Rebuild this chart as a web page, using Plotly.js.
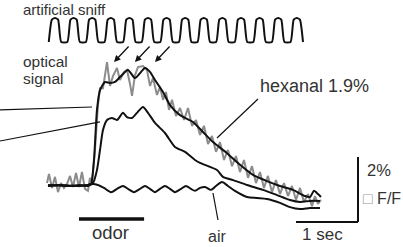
<!DOCTYPE html>
<html>
<head>
<meta charset="utf-8">
<script src="https://cdn.plot.ly/plotly-3.0.1.min.js"></script>
<style>
html,body{margin:0;padding:0;background:#fff;}
#chart{width:403px;height:247px;}
</style>
</head>
<body>
<div id="chart"></div>
<script>
// Time in seconds (0 = odor onset), signal in % dF/F
const hexT = [-0.5,-0.306,-0.145,0.016,0.145,0.194,0.242,0.29,0.339,0.419,0.5,0.581,0.661,0.79,0.903,1.065,1.145,1.226,1.355,1.468,1.629,1.839,2.0,2.161,2.387,2.597,2.806,3.032,3.242,3.452,3.645,3.726,3.79,3.855,3.903];
const hexV = [-0.03,0,-0.03,0,-0.03,0.03,0.77,2.31,2.92,3.17,3.14,3.17,3.32,3.54,3.29,3.6,3.48,3.23,2.86,2.46,2.15,1.94,1.63,1.32,0.98,0.62,0.31,0.12,-0.03,-0.15,-0.34,-0.37,-0.18,-0.28,-0.37];

const lowT = [-0.5,-0.145,0.145,0.226,0.29,0.339,0.387,0.452,0.532,0.613,0.71,0.774,0.855,0.935,1.032,1.113,1.226,1.387,1.548,1.71,1.871,1.952,2.226,2.323,2.484,2.71,2.968,3.194,3.403,3.565,3.726,3.887];
const lowV = [0,-0.03,0,0.06,0.46,1.08,1.69,2.0,2.06,2.0,2.22,2.09,2.06,2.22,2.4,2.22,1.91,1.6,1.17,1.02,0.77,0.68,0.46,0.25,0.15,0,-0.15,-0.31,-0.46,-0.52,-0.49,-0.49];

const airT = [-0.5,-0.306,-0.065,0.145,0.226,0.306,0.403,0.516,0.613,0.71,0.79,0.887,0.984,1.065,1.145,1.226,1.306,1.387,1.468,1.548,1.645,1.726,1.806,1.871,1.952,2.032,2.129,2.21,2.306,2.403,2.516,2.71,2.871,3.032,3.242,3.403,3.565,3.726,3.887];
const airV = [-0.03,0,-0.03,0,0.03,0,-0.09,-0.22,-0.12,-0.03,-0.12,-0.22,-0.12,-0.03,-0.12,-0.22,-0.12,-0.03,-0.12,-0.22,-0.12,-0.03,-0.12,-0.18,-0.09,-0.06,-0.15,-0.03,0.09,-0.03,-0.18,-0.37,-0.4,-0.43,-0.55,-0.68,-0.74,-0.71,-0.71];

const rawT = [-0.516,-0.484,-0.435,-0.387,-0.339,-0.29,-0.242,-0.194,-0.145,-0.097,-0.048,0,0.048,0.097,0.145,0.177,0.21,0.258,0.306,0.339,0.387,0.452,0.5,0.548,0.613,0.661,0.726,0.774,0.823,0.855,0.903,0.952,1.032,1.097,1.145,1.194,1.258,1.306,1.355,1.403,1.452,1.5,1.565,1.629,1.694,1.758,1.823,1.887,1.952,2.016,2.081,2.145,2.21,2.274,2.339,2.403,2.468,2.532,2.597,2.661,2.726,2.79,2.855,2.919,2.984,3.048,3.113,3.177,3.242,3.306,3.371,3.435,3.5,3.565,3.629,3.694,3.758,3.806,3.855,3.903];
const rawV = [0.06,0.34,-0.09,0.25,-0.22,0.06,-0.09,0.03,0.28,-0.06,0.37,-0.06,0.4,-0.12,-0.18,0.22,0.06,1.08,2.46,2.98,2.98,3.78,3.05,3.35,3.6,3.23,3.48,3.54,3.11,2.74,3.38,3.63,3.66,3.54,3.05,3.29,2.77,3.02,2.62,2.86,2.31,2.62,2.12,2.37,2.0,2.37,1.82,2.0,1.54,1.82,1.26,1.51,1.02,1.32,0.77,1.08,0.58,0.89,0.4,0.77,0.22,0.58,0.06,0.4,-0.09,0.28,-0.22,0.15,-0.28,0.06,-0.34,-0.03,-0.46,-0.09,-0.52,-0.28,-0.65,-0.34,-0.58,-0.46];

// artificial sniff waveform (arbitrary units, 0 = closed, 1 = open)
const sniffT = [-0.487,-0.437,-0.387,-0.337,-0.287,
  -0.187,-0.137,-0.087,-0.037,0.013,
  0.113,0.163,0.213,0.263,0.313,
  0.413,0.463,0.513,0.563,0.613,
  0.713,0.763,0.813,0.863,0.913,
  1.013,1.063,1.113,1.163,1.213,
  1.313,1.363,1.413,1.463,1.513,
  1.613,1.663,1.713,1.763,1.813,
  1.913,1.963,2.013,2.063,2.113,
  2.213,2.263,2.313,2.363,2.413,
  2.513,2.563,2.613,2.663,2.713,
  2.813,2.863,2.913,2.963,3.013,
  3.113,3.163,3.213,3.263,3.313,
  3.413,3.463,3.513,3.563,3.613];
const sniffV = [0,0.93,1,0.93,0, 0,0.93,1,0.93,0, 0,0.93,1,0.93,0, 0,0.93,1,0.93,0,
  0,0.93,1,0.93,0, 0,0.93,1,0.93,0, 0,0.93,1,0.93,0, 0,0.93,1,0.93,0,
  0,0.93,1,0.93,0, 0,0.93,1,0.93,0, 0,0.93,1,0.93,0, 0,0.93,1,0.93,0,
  0,0.93,1,0.93,0, 0,0.93,1,0.93,0];

const odorOn = 0, odorOff = 1.05;
const scaleSec = 1, scalePct = 2;
const scaleX0 = 3.5, scaleY0 = -1.138;
const arrowPeaksT = [0.565, 0.903, 1.226];

const blk = '#111';
const txt = '#333';
const traces = [
  {x: rawT, y: rawV, mode: 'lines', line: {color: '#8c8c8c', width: 2}, hoverinfo: 'skip'},
  {x: airT, y: airV, mode: 'lines', line: {color: blk, width: 2, shape: 'spline', smoothing: 0.8}},
  {x: lowT, y: lowV, mode: 'lines', line: {color: blk, width: 2, shape: 'spline', smoothing: 0.6}},
  {x: hexT, y: hexV, mode: 'lines', line: {color: blk, width: 2, shape: 'spline', smoothing: 0.6}},
  {x: sniffT, y: sniffV, yaxis: 'y2', mode: 'lines', line: {color: blk, width: 2, shape: 'spline', smoothing: 0.5}}
];

const F = {family: 'Liberation Sans, Arial, sans-serif', size: 16, color: txt};
function label(text, x, y, xanchor, size, yanchor) {
  return {text: text, x: x, y: y, xref: 'x', yref: 'y', xanchor: xanchor, yanchor: yanchor || 'middle',
          showarrow: false, borderpad: 0, font: Object.assign({}, F, {size: size || 16})};
}
const annotations = [
  label('artificial sniff', -0.919, 5.692, 'left', 15, 'top'),
  label('optical', -0.919, 3.785, 'left', 15.5),
  label('signal', -0.919, 3.29, 'left', 15.5),
  label('hexanal 1.9%', 2.9, 3.046, 'left', 18),
  label('odor', (odorOn + odorOff) / 2 - 0.02, -1.477, 'center', 18.5),
  label('air', 2.226, -1.57, 'center', 16),
  label('1 sec', 3.58, -1.508, 'left', 17),
  label('2%', 4.629, 0.46, 'left', 16.5),
  label('<span style="color:#9a9a9a">\u25A1</span> F/F', 4.565, -0.43, 'left', 16)
];
arrowPeaksT.forEach(function (t) {
  annotations.push({x: t, y: 3.785, ax: t + 0.258, ay: 4.308, xref: 'x', yref: 'y', axref: 'x', ayref: 'y',
    text: '', showarrow: true, arrowhead: 2, arrowsize: 1, arrowwidth: 1.3, arrowcolor: blk, standoff: 0, startstandoff: 0});
});

const thin = {color: blk, width: 1.2};
const shapes = [
  {type: 'line', xref: 'x', yref: 'y', x0: odorOn, x1: odorOff, y0: -1.046, y1: -1.046, line: {color: blk, width: 3.3}},
  {type: 'line', xref: 'x', yref: 'y', x0: scaleX0, x1: scaleX0 + scaleSec, y0: scaleY0, y1: scaleY0, line: {color: blk, width: 2}},
  {type: 'line', xref: 'x', yref: 'y', x0: scaleX0 + scaleSec, x1: scaleX0 + scaleSec, y0: scaleY0, y1: scaleY0 + scalePct, line: {color: blk, width: 2}},
  {type: 'line', xref: 'x', yref: 'y', x0: -1.274, x1: 0.21, y0: 2.31, y1: 2.4, line: thin},
  {type: 'line', xref: 'x', yref: 'y', x0: -1.274, x1: 0.339, y0: 1.354, y1: 1.94, line: thin},
  {type: 'line', xref: 'x', yref: 'y', x0: 2.887, x1: 2.226, y0: 2.646, y1: 1.446, line: thin},
  {type: 'line', xref: 'x', yref: 'y', x0: 2.161, x1: 2.242, y0: -0.246, y1: -1.077, line: thin}
];

const layout = {
  width: 403, height: 247,
  margin: {l: 0, r: 0, t: 0, b: 0, pad: 0},
  paper_bgcolor: '#fff', plot_bgcolor: '#fff',
  showlegend: false,
  xaxis: {range: [-1.274, 5.226], visible: false, fixedrange: true},
  yaxis: {range: [-1.908, 5.692], visible: false, fixedrange: true},
  yaxis2: {range: [-8.54, 1.75], overlaying: 'y', visible: false, fixedrange: true},
  annotations: annotations,
  shapes: shapes
};
Plotly.newPlot('chart', traces, layout, {displayModeBar: false, staticPlot: true});
</script>
</body>
</html>
